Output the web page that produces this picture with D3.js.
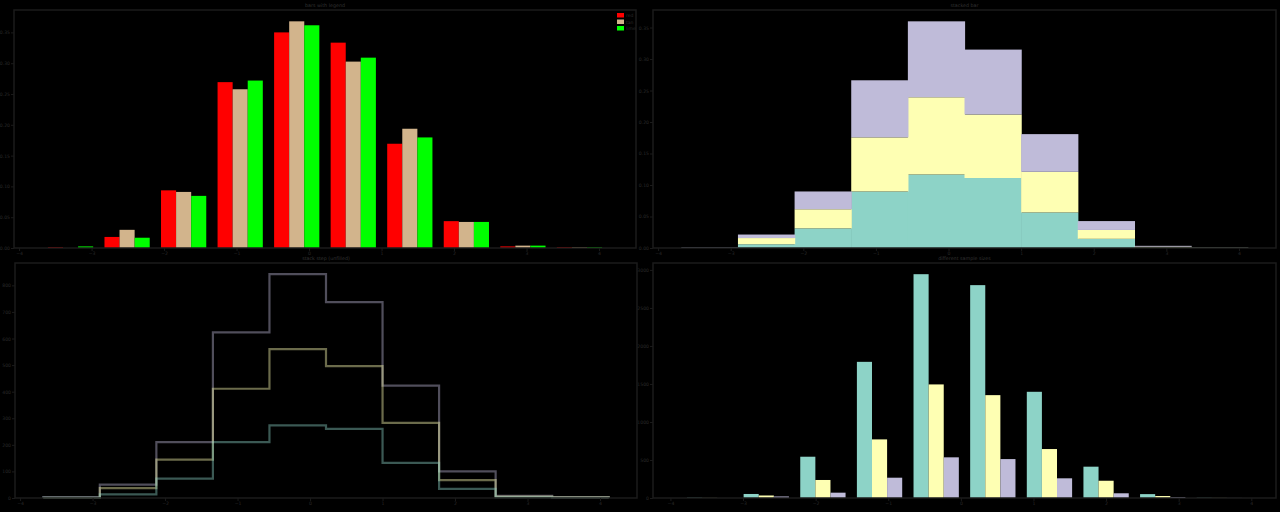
<!DOCTYPE html>
<html><head><meta charset="utf-8">
<script src="https://cdn.jsdelivr.net/npm/d3@7"></script>
<style>html,body{margin:0;background:#000;} svg{display:block}</style>
</head><body>
<svg id="chart" width="1280" height="512"></svg>
<script>
// ---- data ----
const binEdges = [-3.68, -2.90, -2.12, -1.34, -0.56, 0.22, 1.00, 1.78, 2.56, 3.34, 4.12];
const seriesNames = ["red", "tan", "lime"];
const redCounts  = [1, 14, 73, 210, 273, 260, 132, 34, 2, 1];
const tanCounts  = [0, 23, 71, 201, 287, 236, 151, 33, 3, 1];
const limeCounts = [2, 13, 66, 212, 282, 241, 140, 33, 3, 1];
const sampleSize = 1000;

const multiBinEdges = [-3.85, -3.07, -2.29, -1.51, -0.73, 0.05, 0.83, 1.61, 2.39, 3.17, 3.95];
const counts10000 = [5, 53, 543, 1791, 2944, 2800, 1397, 412, 51, 4];
const counts5000  = [2, 33, 237, 771, 1494, 1353, 644, 227, 26, 2];
const counts2000  = [0, 20, 70, 267, 535, 512, 259, 62, 13, 1];

const titles = ["bars with legend", "stacked bar", "stack step (unfilled)", "different sample sizes"];
const xTickValues = [-4, -3, -2, -1, 0, 1, 2, 3, 4];
const yTicksDensity = [0, 0.05, 0.10, 0.15, 0.20, 0.25, 0.30, 0.35];
const yTicksStep = [0, 100, 200, 300, 400, 500, 600, 700, 800];
const yTicksMulti = [0, 500, 1000, 1500, 2000, 2500, 3000];

const legendColors = ["#ff0000", "#d2b48c", "#00ff00"];
const cycleColors = ["#8dd3c7", "#feffb3", "#bfbbd9"];

// ---- layout ----
const panels = [
  {x0: 14,  x1: 636,  y0: 10,  y1: 248},
  {x0: 653, x1: 1276, y0: 10,  y1: 248},
  {x0: 15,  x1: 637,  y0: 263, y1: 498},
  {x0: 653, x1: 1276, y0: 263, y1: 498}
];
const spineColor = "#1b1b1b";
const textColor = "#2a2a2a";
const svg = d3.select("#chart");
svg.append("rect").attr("width", 1280).attr("height", 512).attr("fill", "#000");

function makeScales(p, edges, ymax) {
  const span = edges[edges.length - 1] - edges[0];
  const x = d3.scaleLinear()
    .domain([edges[0] - 0.05 * span, edges[edges.length - 1] + 0.05 * span])
    .range([p.x0, p.x1]);
  const y = d3.scaleLinear().domain([0, ymax * 1.05]).range([p.y1, p.y0]);
  return {x, y};
}

function drawFrame(p, sc, yTicks, title, fmt) {
  const g = svg.append("g");
  const ax = g.append("g").attr("transform", `translate(0,${p.y1})`)
    .call(d3.axisBottom(sc.x).tickValues(xTickValues.filter(v => v >= sc.x.domain()[0] && v <= sc.x.domain()[1])).tickSize(3).tickPadding(1).tickFormat(d3.format("d")));
  const ay = g.append("g").attr("transform", `translate(${p.x0},0)`)
    .call(d3.axisLeft(sc.y).tickValues(yTicks).tickSize(3).tickPadding(1).tickFormat(fmt));
  [ax, ay].forEach(a => {
    a.selectAll("path").attr("stroke", "none");
    a.selectAll("line").attr("stroke", spineColor);
    a.selectAll("text").attr("fill", textColor).style("font-size", "4.6px").style("font-family", "DejaVu Sans");
  });
  svg.append("rect").attr("x", p.x0).attr("y", p.y0)
    .attr("width", p.x1 - p.x0).attr("height", p.y1 - p.y0)
    .attr("fill", "none").attr("stroke", spineColor).attr("stroke-width", 1.5);
  svg.append("text").attr("x", (p.x0 + p.x1) / 2).attr("y", p.y0 - 3)
    .attr("text-anchor", "middle").attr("fill", "#333")
    .style("font-size", "4.8px").style("font-family", "DejaVu Sans").text(title);
}

const dataSets = [redCounts, tanCounts, limeCounts];
const nBins = binEdges.length - 1;

// ---- panel 1: bars with legend (density) ----
(function () {
  const p = panels[0];
  const dens = dataSets.map(c => c.map((v, i) => v / (sampleSize * (binEdges[i + 1] - binEdges[i]))));
  const sc = makeScales(p, binEdges, d3.max(dens.flat()));
  const g = svg.append("g");
  dens.forEach((arr, s) => {
    g.selectAll(null).data(arr).join("rect")
      .attr("x", (d, i) => { const a = sc.x(binEdges[i]), b = sc.x(binEdges[i + 1]), w = b - a; return a + 0.1 * w + s * 0.8 * w / 3; })
      .attr("width", (d, i) => 0.8 * (sc.x(binEdges[i + 1]) - sc.x(binEdges[i])) / 3)
      .attr("y", d => sc.y(d)).attr("height", d => sc.y(0) - sc.y(d))
      .attr("fill", legendColors[s]);
  });
  drawFrame(p, sc, yTicksDensity, titles[0], d3.format(".2f"));
  const lg = svg.append("g");
  seriesNames.forEach((n, s) => {
    lg.append("rect").attr("x", 617).attr("y", 13 + s * 6.5).attr("width", 7).attr("height", 4.5).attr("fill", legendColors[s]);
    lg.append("text").attr("x", 626).attr("y", 17 + s * 6.5).attr("fill", textColor)
      .style("font-size", "4.6px").style("font-family", "DejaVu Sans").text(n);
  });
})();

// ---- panel 2: stacked bar (density of combined) ----
(function () {
  const p = panels[1];
  const total = sampleSize * dataSets.length;
  const dens = dataSets.map(c => c.map((v, i) => v / (total * (binEdges[i + 1] - binEdges[i]))));
  const cum = [];
  dens.forEach((arr, s) => cum.push(arr.map((v, i) => v + (s ? cum[s - 1][i] : 0))));
  const sc = makeScales(p, binEdges, d3.max(cum[cum.length - 1]));
  const g = svg.append("g");
  cum.forEach((arr, s) => {
    g.selectAll(null).data(arr).join("rect")
      .attr("x", (d, i) => sc.x(binEdges[i]))
      .attr("width", (d, i) => sc.x(binEdges[i + 1]) - sc.x(binEdges[i]) + 0.6)
      .attr("y", d => sc.y(d))
      .attr("height", (d, i) => sc.y(s ? cum[s - 1][i] : 0) - sc.y(d))
      .attr("fill", cycleColors[s]);
  });
  drawFrame(p, sc, yTicksDensity, titles[1], d3.format(".2f"));
})();

// ---- panel 3: stack step (unfilled), counts ----
(function () {
  const p = panels[2];
  const cum = [];
  dataSets.forEach((arr, s) => cum.push(arr.map((v, i) => v + (s ? cum[s - 1][i] : 0))));
  const sc = makeScales(p, binEdges, d3.max(cum[cum.length - 1]));
  const line = d3.line().x(d => sc.x(d[0])).y(d => sc.y(d[1]));
  const g = svg.append("g");
  for (let s = cum.length - 1; s >= 0; s--) {
    const prev = s ? cum[s - 1] : new Array(nBins).fill(0);
    const pts = [[binEdges[0], prev[0]]];
    cum[s].forEach((v, i) => { pts.push([binEdges[i], v]); pts.push([binEdges[i + 1], v]); });
    pts.push([binEdges[nBins], prev[nBins - 1]]);
    g.append("path").attr("d", line(pts)).attr("fill", "none")
      .attr("stroke", cycleColors[s]).attr("stroke-opacity", 0.42).attr("stroke-width", 2.2);
  }
  drawFrame(p, sc, yTicksStep, titles[2], d3.format("d"));
})();

// ---- panel 4: different sample sizes ----
(function () {
  const p = panels[3];
  const sets = [counts10000, counts5000, counts2000];
  const sc = makeScales(p, multiBinEdges, d3.max(sets.flat()));
  const g = svg.append("g");
  sets.forEach((arr, s) => {
    g.selectAll(null).data(arr).join("rect")
      .attr("x", (d, i) => { const a = sc.x(multiBinEdges[i]), b = sc.x(multiBinEdges[i + 1]), w = b - a; return a + 0.1 * w + s * 0.8 * w / 3; })
      .attr("width", (d, i) => 0.8 * (sc.x(multiBinEdges[i + 1]) - sc.x(multiBinEdges[i])) / 3)
      .attr("y", d => sc.y(d)).attr("height", d => sc.y(0) - sc.y(d))
      .attr("fill", cycleColors[s]);
  });
  drawFrame(p, sc, yTicksMulti, titles[3], d3.format("d"));
})();
</script>
</body></html>
